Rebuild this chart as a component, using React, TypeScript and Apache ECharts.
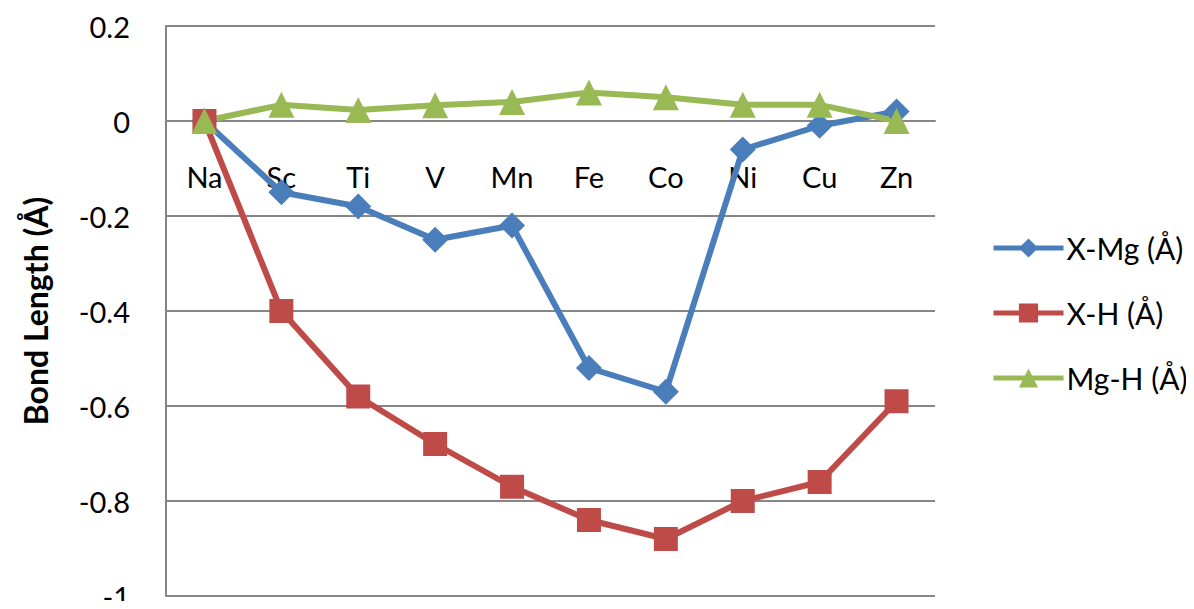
import React, { useEffect, useRef } from "react";
import * as echarts from "echarts";

const elements = ["Na", "Sc", "Ti", "V", "Mn", "Fe", "Co", "Ni", "Cu", "Zn"];
const xMg = [0, -0.15, -0.18, -0.25, -0.22, -0.52, -0.57, -0.06, -0.01, 0.02];
const xH = [0, -0.4, -0.58, -0.68, -0.77, -0.84, -0.88, -0.8, -0.76, -0.59];
const mgH = [0, 0.034, 0.023, 0.033, 0.04, 0.06, 0.05, 0.034, 0.034, 0];

const FONT = "Lato, 'Open Sans', sans-serif";

const GRID_TOP = 26;
const GRID_BOTTOM = 13;
const CHART_H = 609;
const Y_MIN = -1;
const Y_MAX = 0.2;

export default function App() {
  const ref = useRef<HTMLDivElement>(null);

  useEffect(() => {
    if (!ref.current) return;
    const chart = echarts.init(ref.current, undefined, { renderer: "svg" });
    // category axis sits on the zero line: shift it up from the plot bottom
    const plotH = CHART_H - GRID_TOP - GRID_BOTTOM;
    const zeroOffset = -plotH * (0 - Y_MIN) / (Y_MAX - Y_MIN);
    const line = (name: string, data: number[], color: string, symbol: string, size: number) => ({
      name,
      type: "line",
      data,
      smooth: false,
      symbol,
      symbolSize: size,
      lineStyle: { color, width: 6 },
      itemStyle: { color },
    });
    chart.setOption({
      animation: false,
      textStyle: { fontFamily: FONT },
      grid: { left: 166, right: 259, top: GRID_TOP, bottom: GRID_BOTTOM, containLabel: false, outerBoundsMode: "none" },
      legend: {
        orient: "vertical",
        left: 986,
        top: 228,
        itemWidth: 70,
        itemHeight: 24,
        itemGap: 35,
        lineStyle: { width: 5 },
        textStyle: { fontSize: 30, color: "#000", fontFamily: FONT, padding: [0, 0, 0, -2] },
        data: ["X-Mg (Å)", "X-H (Å)", "Mg-H (Å)"],
      },
      xAxis: {
        type: "category",
        data: elements,
        boundaryGap: true,
        position: "bottom",
        offset: zeroOffset,
        axisLine: { onZero: false, lineStyle: { color: "#868686", width: 2 } },
        axisTick: { show: false },
        axisLabel: { fontSize: 29, color: "#000", margin: 41, fontFamily: FONT },
      },
      yAxis: {
        type: "value",
        min: Y_MIN,
        max: Y_MAX,
        interval: 0.2,
        name: "Bond Length (Å)",
        nameLocation: "middle",
        nameGap: 115,
        nameTextStyle: { fontSize: 32, fontWeight: "bold", color: "#000", fontFamily: FONT },
        axisLine: { show: true, lineStyle: { color: "#868686", width: 2 } },
        axisTick: { show: false },
        axisLabel: {
          fontSize: 29,
          color: "#000",
          margin: 36,
          fontFamily: FONT,
          formatter: (v: number) => String(Math.round(v * 10) / 10),
        },
        splitLine: { lineStyle: { color: "#868686", width: 2 } },
      },
      series: [
        line("X-Mg (Å)", xMg, "#4a7ebb", "diamond", 26),
        line("X-H (Å)", xH, "#be4b48", "rect", 24),
        line("Mg-H (Å)", mgH, "#98b954", "triangle", 26),
      ],
    });
    return () => chart.dispose();
  }, []);

  return <div ref={ref} style={{ width: 1194, height: 609, margin: -8 }} />;
}
